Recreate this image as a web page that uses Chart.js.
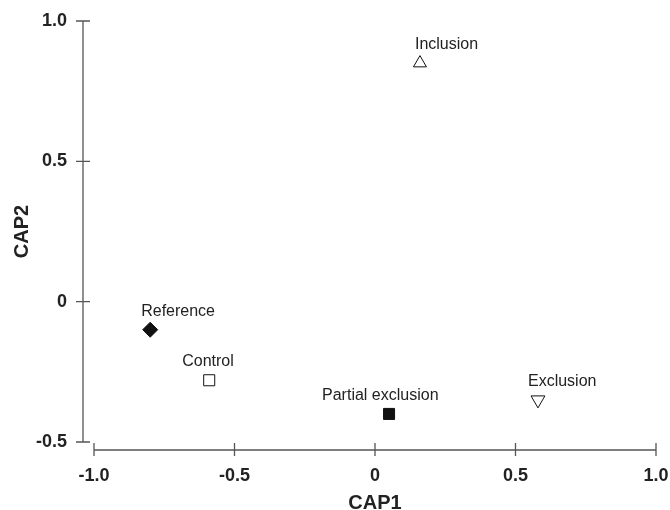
<!DOCTYPE html>
<html>
<head>
<meta charset="utf-8">
<script src="https://cdn.jsdelivr.net/npm/chart.js@4/dist/chart.umd.min.js"></script>
<style>
  html, body { margin: 0; padding: 0; background: #fff; }
</style>
</head>
<body>
<canvas id="capChart" width="670" height="510"></canvas>
<script>
// CAP ordination, one point per treatment
const groups = ['Inclusion', 'Reference', 'Control', 'Partial exclusion', 'Exclusion'];
const cap1 = [0.16, -0.80, -0.59, 0.05, 0.58];
const cap2 = [0.85, -0.10, -0.28, -0.40, -0.35];

const xTicks = [-1.0, -0.5, 0, 0.5, 1.0];
const xTickLabels = ['-1.0', '-0.5', '0', '0.5', '1.0'];
const yTicks = [-0.5, 0, 0.5, 1.0];
const yTickLabels = ['-0.5', '0', '0.5', '1.0'];

const FONT = "'Liberation Sans', Arial, Helvetica, sans-serif";
const INK = '#222';

// marker look for each group
const markerStyle = ['triangle', 'rectRot', 'rect', 'rect', 'triangle'];
const markerRotation = [0, 0, 0, 0, 180];
const markerFill = ['#fff', '#111', '#fff', '#111', '#fff'];
const markerRadius = [7.5, 7.5, 7.8, 7.8, 8];

// detached axes with ticks crossing the line
const detachedAxes = {
  id: 'detachedAxes',
  beforeDatasetsDraw(chart) {
    const { ctx, scales: { x, y } } = chart;
    const axisX = x.getPixelForValue(xTicks[0]) - 11;
    const axisY = y.getPixelForValue(yTicks[0]) + 8;
    ctx.save();
    ctx.strokeStyle = '#555';
    ctx.lineWidth = 1.3;
    ctx.beginPath();
    ctx.moveTo(axisX, y.getPixelForValue(yTicks[yTicks.length - 1]));
    ctx.lineTo(axisX, y.getPixelForValue(yTicks[0]));
    yTicks.forEach(v => {
      const py = y.getPixelForValue(v);
      ctx.moveTo(axisX - 7, py);
      ctx.lineTo(axisX + 7, py);
    });
    ctx.moveTo(x.getPixelForValue(xTicks[0]), axisY);
    ctx.lineTo(x.getPixelForValue(xTicks[xTicks.length - 1]), axisY);
    xTicks.forEach(v => {
      const px = x.getPixelForValue(v);
      ctx.moveTo(px, axisY - 7);
      ctx.lineTo(px, axisY + 6);
    });
    ctx.stroke();
    ctx.restore();
  }
};

// group names written above each marker
const labelDx = [-5, -9, -27, -67, -10];
const pointLabels = {
  id: 'pointLabels',
  afterDatasetsDraw(chart) {
    const { ctx } = chart;
    const meta = chart.getDatasetMeta(0);
    ctx.save();
    ctx.font = '16px ' + FONT;
    ctx.fillStyle = INK;
    ctx.textAlign = 'left';
    ctx.textBaseline = 'middle';
    meta.data.forEach((pt, i) => {
      ctx.fillText(groups[i], pt.x + labelDx[i], pt.y - 18.5);
    });
    ctx.restore();
  }
};

new Chart(document.getElementById('capChart').getContext('2d'), {
  type: 'scatter',
  data: {
    datasets: [{
      data: cap1.map((v, i) => ({ x: v, y: cap2[i] })),
      pointStyle: markerStyle,
      rotation: markerRotation,
      backgroundColor: markerFill,
      borderColor: '#111',
      borderWidth: 1,
      pointRadius: markerRadius,
      pointHoverRadius: markerRadius
    }]
  },
  options: {
    responsive: false,
    animation: false,
    events: [],
    layout: { autoPadding: false, padding: { left: 0, right: 14, top: 21, bottom: 0 } },
    plugins: { legend: { display: false }, tooltip: { enabled: false } },
    scales: {
      x: {
        type: 'linear',
        min: -1.0,
        max: 1.0,
        grid: { display: false, drawTicks: false },
        border: { display: false },
        afterBuildTicks: s => { s.ticks = xTicks.map(v => ({ value: v })); },
        afterFit: s => {
          s.height = 68;
          s.paddingLeft = 0; s.paddingRight = 0;
        },
        ticks: {
          padding: 23,
          color: INK,
          font: { family: FONT, size: 18, weight: 'bold' },
          callback: (v) => xTickLabels[xTicks.indexOf(v)]
        },
        title: {
          display: true,
          text: 'CAP1',
          color: INK,
          padding: { top: 0, bottom: -3.5 },
          font: { family: FONT, size: 20, weight: 'bold', lineHeight: 1 }
        }
      },
      y: {
        type: 'linear',
        min: -0.5,
        max: 1.0,
        grid: { display: false, drawTicks: false },
        border: { display: false },
        afterBuildTicks: s => { s.ticks = yTicks.map(v => ({ value: v })); },
        afterFit: s => {
          s.width = 94;
          s.paddingTop = 0; s.paddingBottom = 0;
        },
        ticks: {
          padding: 27,
          color: INK,
          font: { family: FONT, size: 18, weight: 'bold' },
          callback: (v) => yTickLabels[yTicks.indexOf(v)]
        },
        title: {
          display: true,
          text: 'CAP2',
          color: INK,
          padding: { top: 12, bottom: 0 },
          font: { family: FONT, size: 20, weight: 'bold', lineHeight: 1 }
        }
      }
    }
  },
  plugins: [detachedAxes, pointLabels]
});
</script>
</body>
</html>
